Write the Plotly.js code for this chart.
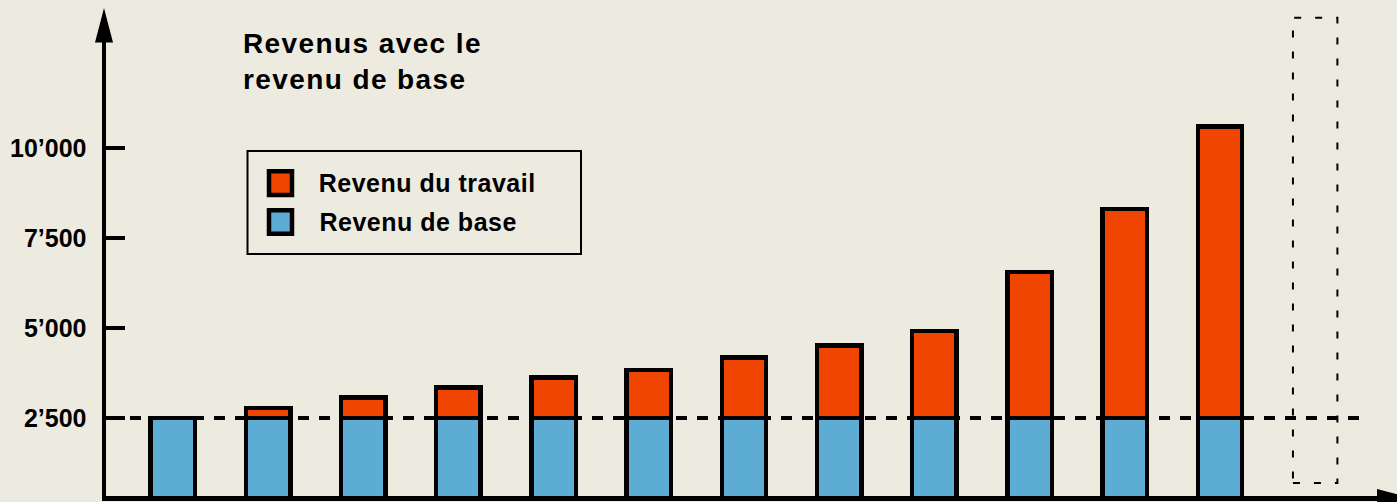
<!DOCTYPE html>
<html><head><meta charset="utf-8">
<script src="https://cdn.plot.ly/plotly-3.0.1.min.js"></script>
<style>html,body{margin:0;padding:0;background:#EDEBE0;}</style>
</head><body><div id="chart" style="width:1397px;height:502px;"></div>
<script>
// ---- data ----
const categories = [1, 2, 3, 4, 5, 6, 7, 8, 9, 10, 11, 12];
const placeholderCategory = 13;
const baseIncome = [2500, 2500, 2500, 2500, 2500, 2500, 2500, 2500, 2500, 2500, 2500, 2500];
const workIncome = [0, 280, 570, 850, 1120, 1330, 1680, 2010, 2420, 4060, 5810, 8100];
const baseLevel = 2500;
const tickValues = [2500, 5000, 7500, 10000];
const tickLabels = ['2’500', '5’000', '7’500', '10’000'];
const seriesNames = ['Revenu de base', 'Revenu du travail'];
const titleText = 'Revenus avec le<br>revenu de base';

// ---- styling / geometry ----
const BG = '#EDEBE0', ORANGE = '#EF4500', BLUE = '#5CACD3', INK = '#000000';
const FONT = 'Liberation Sans, Arial, Helvetica, sans-serif';
const W = 1397, H = 502, mL = 106, mR = 19, mT = 42, mB = 6;
const PW = W - mL - mR, PH = H - mT - mB;
const fx = px => (px - mL) / PW;
const fy = py => (H - mB - py) / PH;
const barWidth = 0.467;

const traces = [
  { type: 'bar', name: seriesNames[0], x: categories, y: baseIncome, width: barWidth,
    marker: { color: BLUE, line: { color: INK, width: 4.5 } } },
  { type: 'bar', name: seriesNames[1], x: categories, y: workIncome, width: barWidth,
    marker: { color: ORANGE, line: { color: INK, width: 4.5 } } }
];

const shapes = [
  // reference level of the basic income
  { type: 'line', xref: 'paper', yref: 'y', x0: fx(109), x1: fx(1362), y0: baseLevel, y1: baseLevel,
    line: { color: INK, width: 4, dash: '11px,10px' }, layer: 'above' },
  // empty placeholder column
  { type: 'rect', xref: 'x', yref: 'paper',
    x0: placeholderCategory - barWidth / 2, x1: placeholderCategory + barWidth / 2,
    y0: fy(483), y1: fy(17.7), line: { color: INK, width: 2, dash: '7px,14px' },
    fillcolor: 'rgba(0,0,0,0)' },
  // axis arrowheads
  { type: 'path', xref: 'paper', yref: 'paper',
    path: `M${fx(95)},${fy(42.5)} L${fx(104)},${fy(8)} L${fx(113)},${fy(42.5)} Z`,
    fillcolor: INK, line: { width: 0 } },
  { type: 'path', xref: 'paper', yref: 'paper',
    path: `M${fx(1377)},${fy(489)} L${fx(1412)},${fy(498)} L${fx(1377)},${fy(507)} Z`,
    fillcolor: INK, line: { width: 0 } },
  // legend frame and swatches
  { type: 'rect', xref: 'paper', yref: 'paper', x0: fx(247.5), x1: fx(581), y0: fy(151), y1: fy(254),
    line: { color: INK, width: 2 }, fillcolor: 'rgba(0,0,0,0)' },
  { type: 'rect', xref: 'paper', yref: 'paper', x0: fx(269), x1: fx(292), y0: fy(171.3), y1: fy(195),
    line: { color: INK, width: 4.5 }, fillcolor: ORANGE },
  { type: 'rect', xref: 'paper', yref: 'paper', x0: fx(269), x1: fx(292), y0: fy(210.3), y1: fy(233.8),
    line: { color: INK, width: 4.5 }, fillcolor: BLUE }
];

const annotations = [
  { xref: 'paper', yref: 'paper', x: fx(321), y: fy(183), xanchor: 'left', yanchor: 'middle',
    text: seriesNames[1], showarrow: false, font: { family: FONT, size: 25, weight: 'bold', color: INK } },
  { xref: 'paper', yref: 'paper', x: fx(321), y: fy(222), xanchor: 'left', yanchor: 'middle',
    text: seriesNames[0], showarrow: false, font: { family: FONT, size: 25, weight: 'bold', color: INK } }
];

const layout = {
  width: W, height: H,
  margin: { l: mL, r: mR, t: mT, b: mB, pad: 0 },
  paper_bgcolor: BG, plot_bgcolor: BG,
  barmode: 'stack', showlegend: false, hovermode: false,
  title: { text: titleText, xref: 'paper', x: fx(243), xanchor: 'left',
           yref: 'container', y: 1 - 53 / H, yanchor: 'top',
           font: { family: FONT, size: 28, weight: 'bold', color: INK } },
  xaxis: { range: [0.298, 13.66], showgrid: false, zeroline: false, showticklabels: false,
           ticks: '', showline: true, linecolor: INK, linewidth: 4.5, fixedrange: true },
  yaxis: { range: [333, 12944], showgrid: false, zeroline: false, showline: true,
           linecolor: INK, linewidth: 4.5, ticks: 'inside', ticklen: 19, tickwidth: 4.5,
           tickcolor: INK, tickvals: tickValues, ticktext: tickLabels, ticklabelstandoff: 10,
           tickfont: { family: FONT, size: 25, weight: 'bold', color: INK }, fixedrange: true },
  shapes: shapes,
  annotations: annotations
};

Plotly.newPlot('chart', traces, layout, { displayModeBar: false, staticPlot: true }).then(() => {
  document.querySelectorAll('.gtitle').forEach(t => { t.style.letterSpacing = '1.4px'; });
  document.querySelectorAll('.annotation-text').forEach(t => { t.style.letterSpacing = '0.5px'; });
});
</script></body></html>
